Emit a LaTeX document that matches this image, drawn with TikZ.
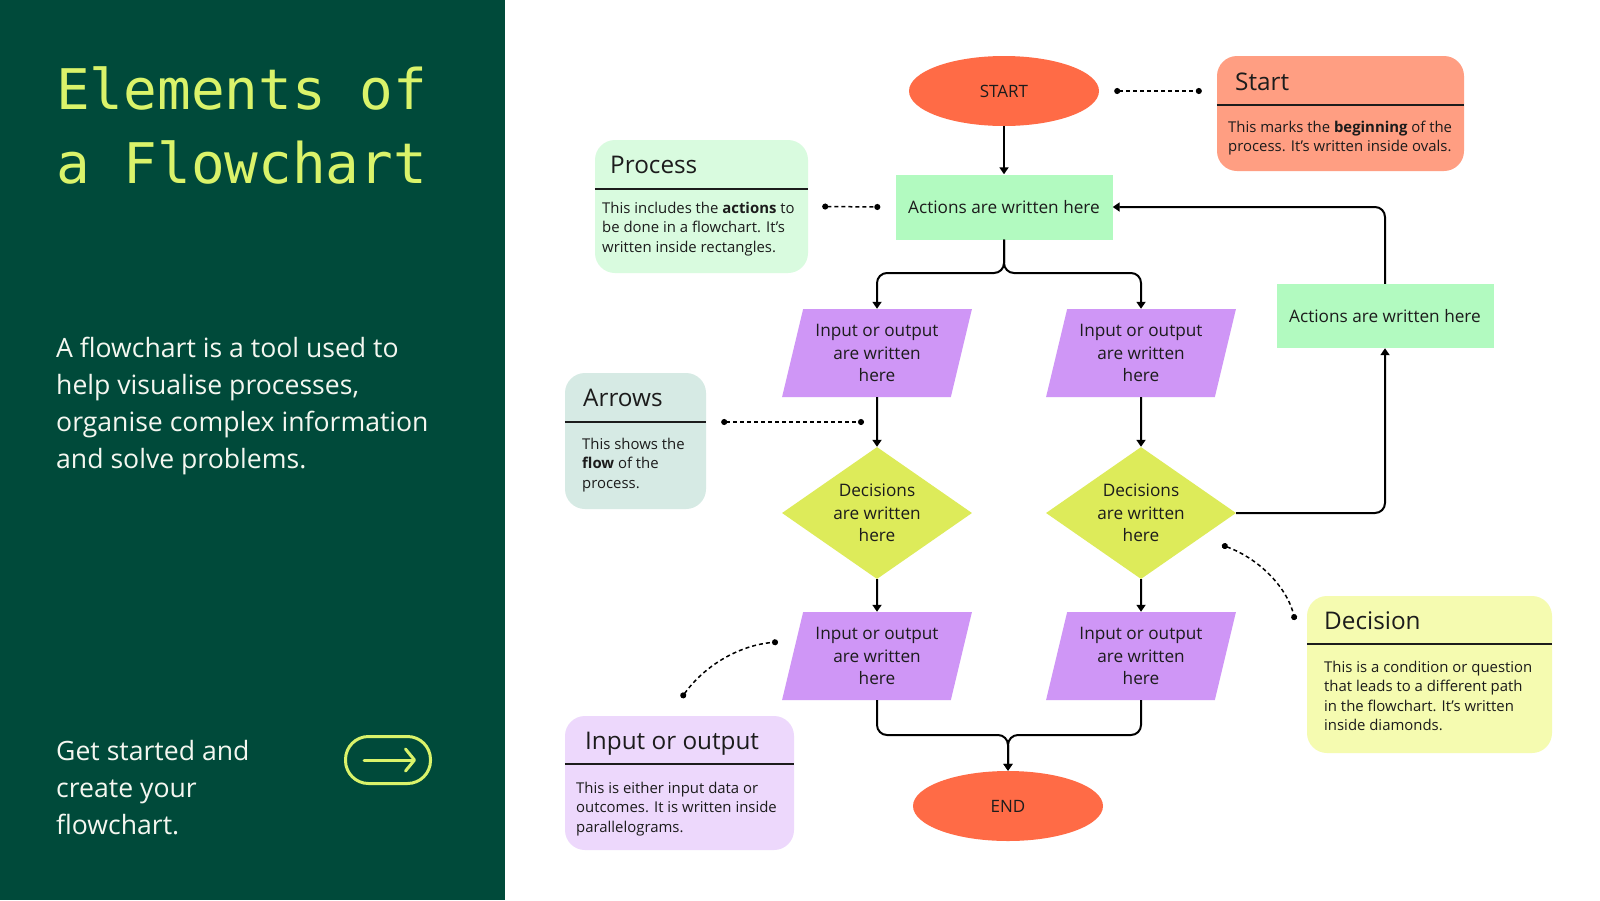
\documentclass[tikz,border=0pt]{standalone}
\usepackage{fontspec}
\setmainfont{Open Sans}
\newfontfamily\titlefont{DejaVu Sans Mono}
\usetikzlibrary{shapes.geometric,arrows.meta,calc}
\definecolor{panelgreen}{RGB}{0,74,58}
\definecolor{lime}{RGB}{218,243,106}
\definecolor{offwhite}{RGB}{244,247,240}
\definecolor{ovalred}{RGB}{255,107,70}
\definecolor{salmon}{RGB}{255,158,130}
\definecolor{actgreen}{RGB}{178,250,192}
\definecolor{procbg}{RGB}{217,251,223}
\definecolor{iopurple}{RGB}{207,150,246}
\definecolor{decyellow}{RGB}{221,235,90}
\definecolor{arrbg}{RGB}{214,234,228}
\definecolor{iobg}{RGB}{237,216,252}
\definecolor{decbg}{RGB}{245,251,176}
\definecolor{ink}{RGB}{28,28,28}
\newcommand{\mylines}[1]{\begin{tabular}[t]{@{}l@{}}#1\end{tabular}}
\tikzset{
  flowtxt/.style={font=\fontsize{17.2}{22.5}\selectfont, text=ink, align=center, inner sep=0pt},
  oval/.style={flowtxt, ellipse, fill=ovalred, minimum width=190pt, minimum height=70pt, font=\fontsize{17}{20}\selectfont},
  actbox/.style={flowtxt, rectangle, fill=actgreen, minimum width=217pt, minimum height=65pt},
  iobox/.style={flowtxt, trapezium, trapezium left angle=73, trapezium right angle=107, trapezium stretches=true, fill=iopurple, minimum width=190pt, minimum height=88pt},
  decbox/.style={flowtxt, diamond, aspect=1.44, fill=decyellow, minimum width=190pt, minimum height=132pt},
  flow/.style={draw=black, line width=2pt, rounded corners=10pt, -{Triangle[length=7pt,width=9pt]}},
  note/.style={draw=black, line width=1.5pt, dash pattern=on 4pt off 3pt, {Circle[length=6pt]}-{Circle[length=6pt]}},
  infobox/.style={rectangle, rounded corners=20pt, inner sep=0pt},
  infohead/.style={anchor=base west, inner sep=0pt, text=ink, font=\fontsize{24.3}{28}\selectfont},
  infobody/.style={anchor=base west, inner sep=0pt, text=ink, font=\fontsize{14.9}{19.5}\selectfont},
  divider/.style={draw=ink, line width=1.5pt}
}
\begin{document}
\begin{tikzpicture}[x=1pt,y=-1pt]
\useasboundingbox (0,0) rectangle (1600,900);
\fill[white] (0,0) rectangle (1600,900);
\fill[panelgreen] (0,0) rectangle (505,900);

% left panel
\node[anchor=base west, inner sep=0pt, text=lime, font=\titlefont\fontsize{56}{74}\selectfont] (title1) at (56,109) {Elements of};
\node[anchor=base west, inner sep=0pt, text=lime, font=\titlefont\fontsize{56}{74}\selectfont] (title2) at (56,183) {a Flowchart};
\node[anchor=base west, inner sep=0pt, text=offwhite, font=\fontsize{26.6}{37}\selectfont] (intro) at (56,357)
  {\mylines{A flowchart is a tool used to\\help visualise processes,\\organise complex information\\and solve problems.}};
\node[anchor=base west, inner sep=0pt, text=offwhite, font=\fontsize{26.6}{37}\selectfont] (cta) at (56,760)
  {\mylines{Get started and\\create your\\flowchart.}};
\node[draw=lime, line width=3pt, rounded corners=23pt, minimum width=85pt, minimum height=47pt, inner sep=0pt] (go) at (388,760) {};
\draw[draw=lime, line width=3pt, line cap=round, -{Straight Barb[length=9pt,width=22pt,line cap=round,round]}] ([xshift=-24pt]go.center) -- ([xshift=28pt]go.center);

% flowchart nodes
\node[oval] (startn) at (1004,91) {START};
\node[actbox] (act1) at (1004,207) {Actions are written here};
\node[iobox] (p1) at (877,353) {Input or output\\are written\\here};
\node[iobox] (p2) at (1141,353) {Input or output\\are written\\here};
\node[decbox] (d1) at (877,513) {Decisions\\are written\\here};
\node[decbox] (d2) at (1141,513) {Decisions\\are written\\here};
\node[iobox] (p3) at (877,656) {Input or output\\are written\\here};
\node[iobox] (p4) at (1141,656) {Input or output\\are written\\here};
\node[oval] (endn) at (1008,806) {END};
\node[actbox, minimum height=64pt] (act2) at (1385,316) {Actions are written here};

\coordinate (split) at (1004,273);
\coordinate (merge) at (1008,735);

\draw[flow] (startn.south) -- (act1.north);
\draw[flow] (act1.south) -- (split) -| (p1.north);
\draw[flow] (act1.south) -- (split) -| (p2.north);
\draw[flow] (p1.south) -- (d1.north);
\draw[flow] (p2.south) -- (d2.north);
\draw[flow] (d1.south) -- (p3.north);
\draw[flow] (d2.south) -- (p4.north);
\draw[flow] (p3.south) |- (merge) -- (endn.north);
\draw[flow] (p4.south) |- (merge) -- (endn.north);
\draw[flow] (d2.east) -| (act2.south);
\draw[flow] (act2.north) |- (act1.east);

% info boxes
\node[infobox, fill=salmon, minimum width=247pt, minimum height=115pt] (startbox) at (1340.5,113.5) {};
\node[infohead] (starth) at (1235,90) {Start};
\draw[divider] (startbox.west |- 0,105) -- (startbox.east |- 0,105);
\node[infobody] (startb) at (1228,132) {\mylines{This marks the \textbf{beginning} of the\\process. It’s written inside ovals.}};

\node[infobox, fill=procbg, minimum width=213pt, minimum height=133pt] (procbox) at (701.5,206.5) {};
\node[infohead] (proch) at (610,173) {Process};
\draw[divider] (procbox.west |- 0,189) -- (procbox.east |- 0,189);
\node[infobody] (procb) at (602,213) {\mylines{This includes the \textbf{actions} to\\be done in a flowchart. It’s\\written inside rectangles.}};

\node[infobox, fill=arrbg, minimum width=141pt, minimum height=136pt] (arrbox) at (635.5,441) {};
\node[infohead] (arrh) at (583,406) {Arrows};
\draw[divider] (arrbox.west |- 0,422) -- (arrbox.east |- 0,422);
\node[infobody] (arrb) at (582,449) {\mylines{This shows the\\\textbf{flow} of the\\process.}};

\node[infobox, fill=iobg, minimum width=229pt, minimum height=134pt] (iobox) at (679.5,783) {};
\node[infohead] (ioh) at (585,749) {Input or output};
\draw[divider] (iobox.west |- 0,764) -- (iobox.east |- 0,764);
\node[infobody] (iob) at (576,793) {\mylines{This is either input data or\\outcomes. It is written inside\\parallelograms.}};

\node[infobox, fill=decbg, minimum width=245pt, minimum height=157pt] (decibox) at (1429.5,674.5) {};
\node[infohead] (dech) at (1324,629) {Decision};
\draw[divider] (decibox.west |- 0,644) -- (decibox.east |- 0,644);
\node[infobody] (decb) at (1324,672) {\mylines{This is a condition or question\\that leads to a different path\\in the flowchart. It’s written\\inside diamonds.}};

% dashed callouts
\draw[note] ([xshift=15pt]startn.east) -- ($(startbox.west |- startn.east)+(-15,0)$);
\draw[note] ([xshift=14pt]procbox.east) -- ([xshift=-15pt]act1.west);
\coordinate (arrtip) at (864,422);
\draw[note] ([xshift=15pt,yshift=19pt]arrbox.east) -- (arrtip);
\coordinate (iotip) at (778,642);
\draw[note] ([shift={(2pt,18pt)}]iobox.north) .. controls (705,665) and (740,645) .. (iotip);
\coordinate (dectip) at (1222,545);
\draw[note] (dectip) .. controls (1262,560) and (1288,590) .. ([shift={(-12pt,54.5pt)}]decibox.west);
\end{tikzpicture}
\end{document}
